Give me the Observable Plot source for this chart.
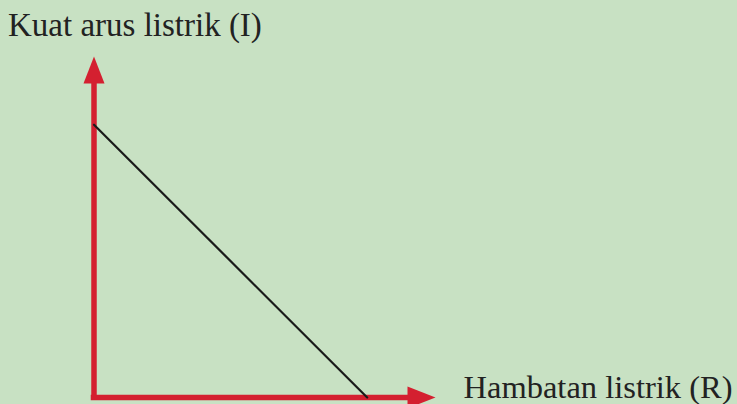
<!DOCTYPE html>
<html>
<head>
<meta charset="utf-8">
<script src="https://cdn.jsdelivr.net/npm/d3@7"></script>
<script src="https://cdn.jsdelivr.net/npm/@observablehq/plot@0.6"></script>
<style>
  html, body { margin: 0; padding: 0; background: #c8e1c3; }
  #chart svg { display: block; }
</style>
</head>
<body>
<div id="chart"></div>
<script>
// Axis labels
const yLabel = "Kuat arus listrik (I)";
const xLabel = "Hambatan listrik (R)";
// Axis extent (arrow tips) and shaft end (hidden under the arrow heads)
const axisMax = 10;
const shaftEnd = 9.5;
// The inverse relation line: I vs R
const lineR = [0, 8];
const lineI = [8, 0];
const lineData = lineR.map((r, i) => ({R: r, I: lineI[i]}));

const red = "#d42030";

// Filled triangular arrow head, tip at the origin, pointing up
const arrowHead = {
  draw(context, size) {
    const r = Math.sqrt(size / Math.PI);
    const L = r, w = r * 0.78;
    context.moveTo(0, 0);
    context.lineTo(-w / 2, L);
    context.lineTo(w / 2, L);
    context.closePath();
  }
};

const chart = Plot.plot({
  width: 737,
  height: 404,
  marginLeft: 93.5,
  marginRight: 302,
  marginTop: 56,
  marginBottom: 7,
  x: {domain: [0, axisMax], axis: null},
  y: {domain: [0, axisMax], axis: null},
  style: {background: "#c8e1c3", overflow: "visible"},
  marks: [
    Plot.ruleY([0], {x1: 0, x2: shaftEnd, stroke: red, strokeWidth: 5.5, strokeLinecap: "square"}),
    Plot.ruleX([0], {y1: 0, y2: shaftEnd, stroke: red, strokeWidth: 5.5, strokeLinecap: "square"}),
    Plot.dot([{x: 0, y: axisMax}], {x: "x", y: "y", symbol: arrowHead, r: 27, fill: red, stroke: "none"}),
    Plot.dot([{x: axisMax, y: 0}], {x: "x", y: "y", symbol: arrowHead, r: 28, fill: red, stroke: "none", rotate: 90}),
    Plot.line(lineData, {x: "R", y: "I", stroke: "#1a1a1a", strokeWidth: 2.2}),
    Plot.text([yLabel], {frameAnchor: "top-left", dx: -86, dy: -21, text: d => d, textAnchor: "start", lineAnchor: "bottom",
      fontFamily: "Liberation Serif", fontSize: 33, fill: "#222"}),
    Plot.text([xLabel], {x: axisMax, y: 0, dx: 28, text: d => d, textAnchor: "start", lineAnchor: "bottom",
      fontFamily: "Liberation Serif", fontSize: 32.5, fill: "#222"})
  ]
});
document.getElementById("chart").appendChild(chart);
</script>
</body>
</html>
